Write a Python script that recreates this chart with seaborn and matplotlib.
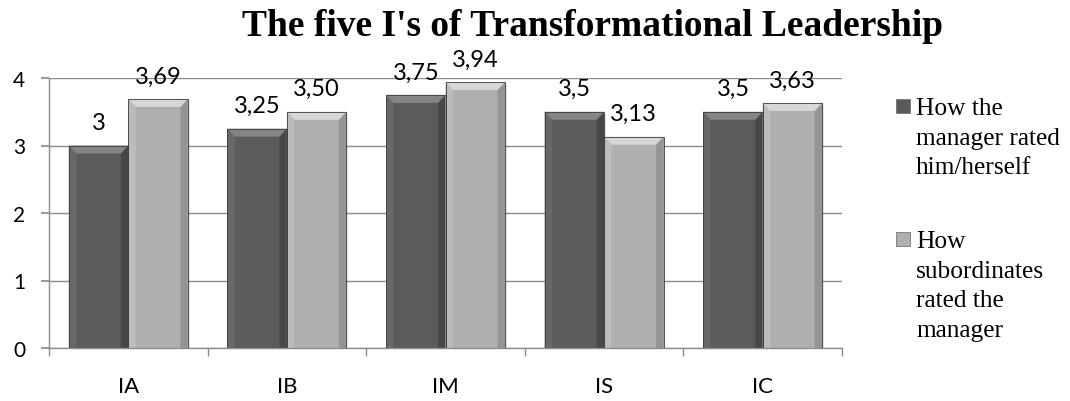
import matplotlib
matplotlib.use("Agg")
import matplotlib.pyplot as plt
import seaborn as sns
import pandas as pd
from matplotlib.patches import Polygon, Rectangle

categories = ["IA", "IB", "IM", "IS", "IC"]
self_rating = [3.0, 3.25, 3.75, 3.5, 3.5]
subordinate_rating = [3.69, 3.50, 3.94, 3.13, 3.63]
self_labels = ["3", "3,25", "3,75", "3,5", "3,5"]
subordinate_labels = ["3,69", "3,50", "3,94", "3,13", "3,63"]
series_names = ["How the manager rated him/herself",
                "How subordinates rated the manager"]
legend_lines = [["How the", "manager rated", "him/herself"],
                ["How", "subordinates", "rated the", "manager"]]
yticks = [0, 1, 2, 3, 4]

df = pd.DataFrame({
    "category": categories * 2,
    "value": self_rating + subordinate_rating,
    "series": [series_names[0]] * 5 + [series_names[1]] * 5,
})

sns.set_theme(style="white")
plt.rcParams["font.family"] = ["Lato", "DejaVu Sans"]
plt.rcParams["text.color"] = "black"
plt.rcParams["xtick.color"] = "black"
plt.rcParams["ytick.color"] = "black"

colors = ["#5b5b5b", "#afafaf"]
bevel_top = ["#858585", "#d6d6d6"]
bevel_side_l = ["#686868", "#bcbcbc"]
bevel_side_r = ["#474747", "#959595"]

W, H = 1070, 402
fig = plt.figure(figsize=(W / 100, H / 100), dpi=100)
ax = fig.add_axes([49 / W, 1 - 349 / H, 793 / W, 270 / H])

sns.barplot(data=df, x="category", y="value", hue="series",
            palette=colors, width=0.75, ax=ax, legend=False,
            saturation=1, edgecolor="none", linewidth=0)

ax.set_xlim(-0.5, 4.5)
ax.set_ylim(0, 4)
ax.set_yticks(yticks)
ax.set_xlabel("")
ax.set_ylabel("")
ax.grid(axis="y", color="#8c8c8c", linewidth=1.0)
ax.set_axisbelow(True)
for s in ["top", "right"]:
    ax.spines[s].set_visible(False)
for s in ["left", "bottom"]:
    ax.spines[s].set_color("#8c8c8c")
    ax.spines[s].set_linewidth(1.0)

ax.tick_params(axis="y", which="major", left=True, length=6, color="#8c8c8c",
               labelsize=15, pad=11)
ax.tick_params(axis="x", which="major", bottom=False, length=0,
               labelsize=16, pad=20)
ax.set_xticks([i + 0.5 for i in range(-1, 5)], minor=True)
ax.tick_params(axis="x", which="minor", bottom=True, length=6,
               color="#8c8c8c", direction="out")

# bevelled look on each bar, built from the bar geometry
bx = 7.5 / 158.6
by = 8 / 67.5
for k, container in enumerate(ax.containers):
    for p in container.patches:
        x, y0 = p.get_x(), p.get_y()
        w, h = p.get_width(), p.get_height()
        y1 = y0 + h
        z = p.get_zorder()
        ax.add_patch(Rectangle((x + 0.012, y0 - 0.03), w, h, facecolor="#000000",
                               alpha=0.10, zorder=z - 0.1, edgecolor="none"))
        ax.add_patch(Polygon([(x, y0), (x, y1), (x + bx, y1 - by), (x + bx, y0)],
                             closed=True, facecolor=bevel_side_l[k],
                             edgecolor="none", zorder=z + 0.1))
        ax.add_patch(Polygon([(x + w, y0), (x + w, y1), (x + w - bx, y1 - by),
                              (x + w - bx, y0)],
                             closed=True, facecolor=bevel_side_r[k],
                             edgecolor="none", zorder=z + 0.1))
        ax.add_patch(Polygon([(x, y1), (x + w, y1), (x + w - bx, y1 - by),
                              (x + bx, y1 - by)],
                             closed=True, facecolor=bevel_top[k],
                             edgecolor="none", zorder=z + 0.2))
        ax.add_patch(Rectangle((x, y0), w, h, facecolor="none",
                               edgecolor="#3c3c3c", linewidth=0.6,
                               zorder=z + 0.3))

# value labels above each bar
for container, labels in zip(ax.containers, [self_labels, subordinate_labels]):
    ax.bar_label(container, labels=labels, padding=9, fontsize=17,
                 color="black")

fig.text(592 / W, 1 - 36 / H, "The five I's of Transformational Leadership",
         ha="center", va="baseline", fontsize=27, fontweight="bold",
         family=["Liberation Serif", "DejaVu Serif"])

# legend: square key beside the first line of each wrapped entry
serif = ["Liberation Serif", "DejaVu Serif"]
first_baselines = [115, 248]
line_step = 29.7
for k, lines in enumerate(legend_lines):
    base = first_baselines[k]
    fig.add_artist(Rectangle((896 / W, 1 - (base - 1) / H), 14 / W, 14 / H,
                             transform=fig.transFigure, facecolor=colors[k],
                             edgecolor="#777777", linewidth=0.6))
    for i, line in enumerate(lines):
        fig.text(916 / W, 1 - (base + i * line_step) / H, line,
                 ha="left", va="baseline", fontsize=18.3, family=serif)

fig.savefig("out.png", dpi=100)
